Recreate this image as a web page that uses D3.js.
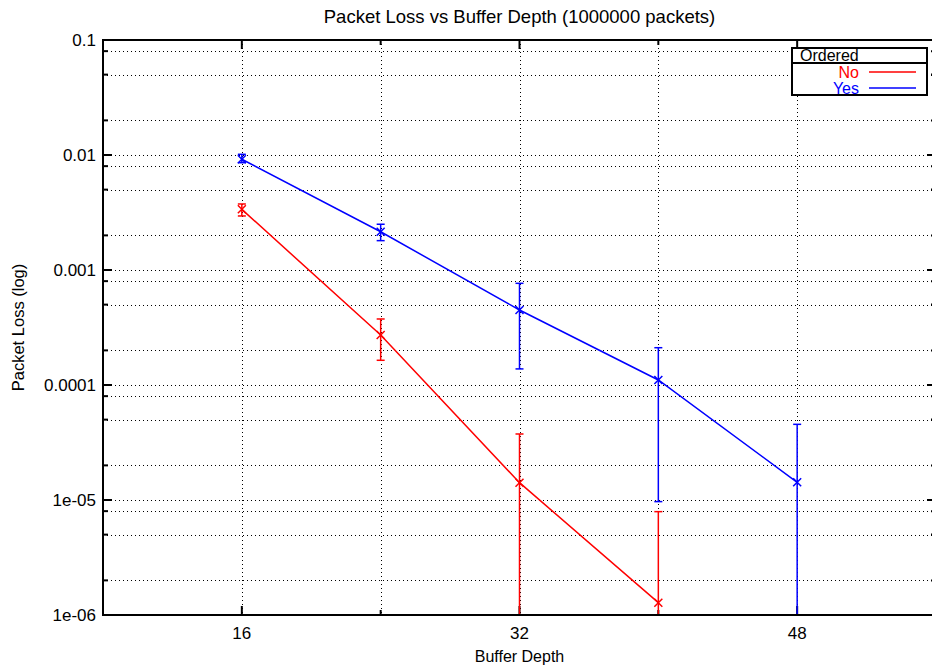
<!DOCTYPE html>
<html>
<head>
  <meta charset="utf-8">
  <title>packet loss vs buffer depth</title>
  <style>
    body { margin: 0; background: #fff; }
    text { font-family: "Liberation Sans", Arial, sans-serif; }
  </style>
</head>
<body>
<script src="https://cdn.jsdelivr.net/npm/d3@7"></script>
<script>
// buffer depths measured
var depths = [16, 24, 32, 40, 48];

// "Ordered = No" (red)
var noMean  = [0.00337, 0.000272, 1.415e-5, 1.28e-6];
var noHigh  = [0.00375, 0.000375, 3.75e-5, 7.92e-6];
var noLow   = [0.00295, 0.000164, 0, 0];

// "Ordered = Yes" (blue)
var yesMean = [0.00918, 0.00215, 0.000449, 0.0001105, 1.425e-5];
var yesHigh = [0.01014, 0.00250, 0.000766, 0.000211, 4.55e-5];
var yesLow  = [0.00857, 0.00180, 0.000138, 9.68e-6, 0];

var xTicks = [16, 32, 48];
var xMinor = [24, 40];
var yTicks = [0.1, 0.01, 0.001, 0.0001, 1e-5, 1e-6];
var yTickLabels = ["0.1", "0.01", "0.001", "0.0001", "1e-05", "1e-06"];

// layout
var W = 932, H = 666;
var margin = {top: 40, left: 103, bottom: 51};
var plotW = 833, plotH = H - margin.top - margin.bottom;

var svg = d3.select("body").append("svg")
    .attr("width", W).attr("height", H);

var x = d3.scaleLinear().domain([8, 56]).range([margin.left, margin.left + plotW]);
var y = d3.scaleLog().domain([1e-6, 0.1]).range([margin.top + plotH, margin.top]);

// minor log positions (2, 5, 8 per decade, like the gnuplot picture)
var yMinor = [];
[1e-6, 1e-5, 1e-4, 1e-3, 1e-2].forEach(function(d) {
  [2, 5, 8].forEach(function(m) { yMinor.push(d * m); });
});

var x0 = x.range()[0], x1 = x.range()[1];
var yb = y.range()[0], yt = y.range()[1];

// grid
var grid = svg.append("g")
    .attr("stroke", "#000").attr("stroke-width", 1)
    .attr("stroke-dasharray", "1,3");
grid.selectAll(".gy").data(yTicks.concat(yMinor).filter(function(v) { return v > 1e-6 && v < 0.1; }))
  .enter().append("line")
    .attr("x1", x0).attr("x2", x1)
    .attr("y1", function(d) { return Math.round(y(d)) + 0.5; })
    .attr("y2", function(d) { return Math.round(y(d)) + 0.5; });
grid.selectAll(".gx").data(xTicks.concat(xMinor))
  .enter().append("line")
    .attr("x1", function(d) { return Math.round(x(d)) + 0.5; })
    .attr("x2", function(d) { return Math.round(x(d)) + 0.5; })
    .attr("y1", yt).attr("y2", yb);

// ticks (inward, mirrored)
var ticks = svg.append("g").attr("stroke", "#000").attr("stroke-width", 2);
function yTick(v, len) {
  ticks.append("line").attr("x1", x0).attr("x2", x0 + len).attr("y1", y(v)).attr("y2", y(v));
  ticks.append("line").attr("x1", x1).attr("x2", x1 - len).attr("y1", y(v)).attr("y2", y(v));
}
yTicks.forEach(function(v) { yTick(v, 9); });
yMinor.forEach(function(v) { yTick(v, 5); });
function xTick(v, len) {
  ticks.append("line").attr("x1", x(v)).attr("x2", x(v)).attr("y1", yb).attr("y2", yb - len);
  ticks.append("line").attr("x1", x(v)).attr("x2", x(v)).attr("y1", yt).attr("y2", yt + len);
}
xTicks.forEach(function(v) { xTick(v, 9); });
xMinor.forEach(function(v) { xTick(v, 5); });

// tick labels
svg.selectAll(".yl").data(yTicks).enter().append("text")
    .attr("x", x0 - 7).attr("y", function(d) { return y(d) + 6; })
    .attr("text-anchor", "end").attr("font-size", 17)
    .text(function(d, i) { return yTickLabels[i]; });
svg.selectAll(".xl").data(xTicks).enter().append("text")
    .attr("x", function(d) { return x(d); }).attr("y", yb + 24)
    .attr("text-anchor", "middle").attr("font-size", 17)
    .text(function(d) { return d; });

// series
var clip = svg.append("clipPath").attr("id", "plotclip").append("rect")
    .attr("x", x0).attr("y", yt).attr("width", plotW).attr("height", plotH);

function yc(v) { return v > 1e-6 ? y(v) : yb; }

function series(means, highs, lows, color) {
  var g = svg.append("g").attr("clip-path", "url(#plotclip)")
      .attr("stroke", color).attr("fill", "none").attr("stroke-width", 1.5);
  var pts = means.map(function(m, i) { return {x: depths[i], m: m, hi: highs[i], lo: lows[i]}; });

  g.append("path")
      .attr("d", d3.line().x(function(d) { return x(d.x); }).y(function(d) { return y(d.m); })(pts));

  // error bars
  g.selectAll(".eb").data(pts).enter().append("line")
      .attr("x1", function(d) { return x(d.x); }).attr("x2", function(d) { return x(d.x); })
      .attr("y1", function(d) { return y(d.hi); }).attr("y2", function(d) { return yc(d.lo); });
  g.selectAll(".cap").data(pts).enter().append("line")
      .attr("x1", function(d) { return x(d.x) - 4; }).attr("x2", function(d) { return x(d.x) + 4; })
      .attr("y1", function(d) { return y(d.hi); }).attr("y2", function(d) { return y(d.hi); });
  g.selectAll(".capl").data(pts.filter(function(d) { return d.lo > 1e-6; })).enter().append("line")
      .attr("x1", function(d) { return x(d.x) - 4; }).attr("x2", function(d) { return x(d.x) + 4; })
      .attr("y1", function(d) { return y(d.lo); }).attr("y2", function(d) { return y(d.lo); });

  // x markers
  var s = 4;
  g.selectAll(".mk").data(pts).enter().append("path")
      .attr("d", function(d) {
        var cx = x(d.x), cy = y(d.m);
        return "M" + (cx - s) + "," + (cy - s) + "L" + (cx + s) + "," + (cy + s) +
               "M" + (cx - s) + "," + (cy + s) + "L" + (cx + s) + "," + (cy - s);
      });
}
series(noMean, noHigh, noLow, "#ff0000");
series(yesMean, yesHigh, yesLow, "#0000ff");

// frame
svg.append("rect")
    .attr("x", x0).attr("y", yt).attr("width", plotW).attr("height", plotH)
    .attr("fill", "none").attr("stroke", "#000").attr("stroke-width", 2);

// titles
svg.append("text")
    .attr("x", (x0 + x1) / 2).attr("y", 23)
    .attr("text-anchor", "middle").attr("font-size", 18.5)
    .text("Packet Loss vs Buffer Depth (1000000 packets)");
svg.append("text")
    .attr("x", (x0 + x1) / 2).attr("y", 662)
    .attr("text-anchor", "middle").attr("font-size", 16)
    .text("Buffer Depth");
svg.append("text")
    .attr("transform", "translate(24," + ((yt + yb) / 2) + ") rotate(-90)")
    .attr("text-anchor", "middle").attr("font-size", 16.5)
    .text("Packet Loss (log)");

// legend
var lg = svg.append("g");
lg.append("rect").attr("x", 792).attr("y", 48).attr("width", 135).attr("height", 47)
    .attr("fill", "#fff").attr("stroke", "#000").attr("stroke-width", 2);
lg.append("line").attr("x1", 792).attr("x2", 927).attr("y1", 63).attr("y2", 63)
    .attr("stroke", "#000").attr("stroke-width", 2);
lg.append("text").attr("x", 800).attr("y", 61).attr("font-size", 16).text("Ordered");
var legendItems = [{name: "No", color: "#ff0000"}, {name: "Yes", color: "#0000ff"}];
legendItems.forEach(function(d, i) {
  var ly = 72 + i * 16;
  lg.append("text").attr("x", 859).attr("y", ly + 6).attr("text-anchor", "end")
      .attr("font-size", 16).attr("fill", d.color).text(d.name);
  lg.append("line").attr("x1", 869).attr("x2", 916).attr("y1", ly).attr("y2", ly)
      .attr("stroke", d.color).attr("stroke-width", 1.5);
});
</script>
</body>
</html>
